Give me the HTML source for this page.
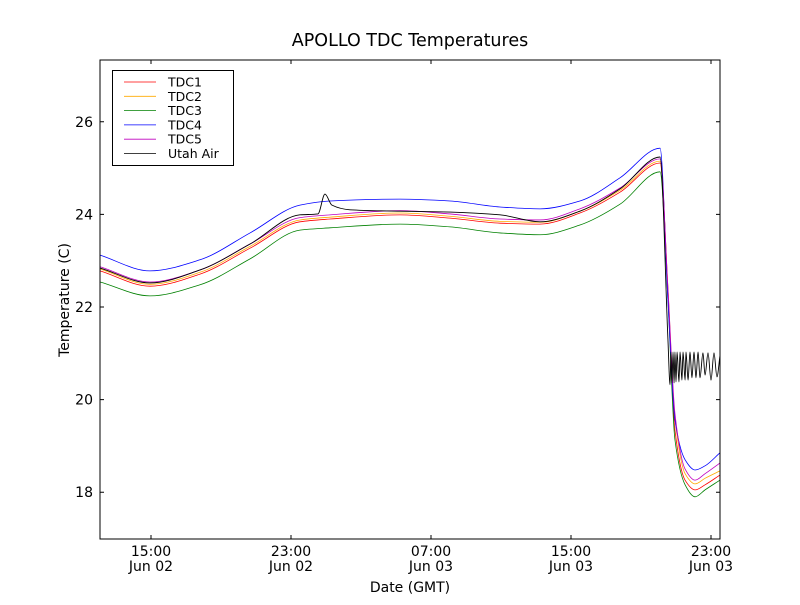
<!DOCTYPE html>
<html><head><meta charset="utf-8"><style>
body{margin:0;background:#fff}
svg{font-family:"DejaVu Sans","Liberation Sans",sans-serif}
</style></head><body>
<svg id="chart" width="800" height="600">
<rect width="800" height="600" fill="#fff"/>
<text x="410" y="46" text-anchor="middle" font-size="17.5">APOLLO TDC Temperatures</text>
<text x="410" y="592" text-anchor="middle" font-size="14">Date (GMT)</text>
<text transform="translate(69,300) rotate(-90)" text-anchor="middle" font-size="14">Temperature (C)</text>
<g id="series"></g>
<g id="axes"></g>
<rect x="100" y="60" width="620" height="479" fill="none" stroke="#000" stroke-width="1"/>
<g>
<rect x="112.5" y="70.5" width="121" height="95" fill="#fff" stroke="#000"/>
</g>
<g id="legend"></g>
</svg>
<script>
const hours=[12.09,14.94,17.80,20.66,23.51,25.23,29.23,32.09,34.94,37.23,39.51,41.80,44.09,44.54,44.94,45.52,46.09,46.66,47.51];
const tdc1=[22.78,22.45,22.71,23.27,23.84,23.90,23.99,23.92,23.81,23.79,24.03,24.48,25.11,22.37,19.34,18.26,18.05,18.16,18.37];
const tdc2=[22.82,22.49,22.75,23.31,23.88,23.94,24.03,23.96,23.85,23.83,24.07,24.52,25.15,22.40,19.60,18.40,18.18,18.30,18.46];
const tdc3=[22.54,22.24,22.48,23.04,23.66,23.71,23.79,23.73,23.60,23.56,23.77,24.22,24.92,22.15,19.13,18.16,17.90,18.05,18.26];
const tdc4=[23.12,22.78,23.02,23.60,24.20,24.29,24.33,24.29,24.16,24.12,24.29,24.79,25.43,22.15,19.56,18.70,18.48,18.57,18.85];
const tdc5=[22.87,22.54,22.80,23.36,23.93,23.99,24.08,24.01,23.90,23.88,24.12,24.57,25.20,22.40,19.70,18.50,18.26,18.40,18.63];
const airHours=[12.09,14.94,17.80,20.66,23.51,24.54,24.94,25.34,26.37,29.23,32.09,34.94,37.23,39.51,41.80,44.09,44.54,44.66,44.71,44.77,44.83,44.89,44.94,45.00,45.06,45.17,45.23,45.34,45.40,45.52,45.57,45.69,45.80,45.91,46.03,46.14,46.26,46.37,46.54,46.66,46.83,47.00,47.17,47.34,47.51];
const utahAir=[22.84,22.52,22.80,23.36,23.99,24.01,24.44,24.20,24.10,24.07,24.05,23.99,23.84,24.07,24.55,25.24,21.29,20.32,21.03,20.36,21.03,20.36,21.03,20.38,21.03,20.38,21.03,20.42,21.03,20.42,21.03,20.42,21.03,20.47,21.03,20.47,21.03,20.47,21.01,20.53,21.01,20.42,21.01,20.49,20.94];
const yTicks=[18,20,22,24,26];
const xTicks=[15,23,31,39,47];
const xLabels=[["15:00","Jun 02"],["23:00","Jun 02"],["07:00","Jun 03"],["15:00","Jun 03"],["23:00","Jun 03"]];
const seriesNames=["TDC1","TDC2","TDC3","TDC4","TDC5","Utah Air"];
const colors=["#ff0000","#ffaa00","#008000","#0000ff","#bf00bf","#000000"];

const NS="http://www.w3.org/2000/svg";
const xS=t=>151+(t-15)*17.5;
const yS=v=>307-(v-22)*46.3;
function monotonePath(xs,ys){
  const n=xs.length;const d=[],m=[];
  for(let i=0;i<n-1;i++)d.push((ys[i+1]-ys[i])/(xs[i+1]-xs[i]));
  m[0]=d[0];m[n-1]=d[n-2];
  for(let i=1;i<n-1;i++){
    if(d[i-1]*d[i]<=0)m[i]=0;
    else{const h0=xs[i]-xs[i-1],h1=xs[i+1]-xs[i];m[i]=(3*(h0+h1))/((2*h1+h0)/d[i-1]+(h1+2*h0)/d[i]);}
  }
  let s='M'+xs[0].toFixed(2)+','+ys[0].toFixed(2);
  for(let i=0;i<n-1;i++){
    const h=(xs[i+1]-xs[i])/3;
    s+='C'+(xs[i]+h).toFixed(2)+','+(ys[i]+m[i]*h).toFixed(2)+' '+(xs[i+1]-h).toFixed(2)+','+(ys[i+1]-m[i+1]*h).toFixed(2)+' '+xs[i+1].toFixed(2)+','+ys[i+1].toFixed(2);
  }
  return s;
}
const sg=document.getElementById('series');
const all=[[hours,tdc1],[hours,tdc2],[hours,tdc3],[hours,tdc4],[hours,tdc5],[airHours,utahAir]];
all.forEach((s,i)=>{
  const p=document.createElementNS(NS,'path');
  p.setAttribute('d',monotonePath(s[0].map(xS),s[1].map(yS)));
  p.setAttribute('fill','none');p.setAttribute('stroke',colors[i]);p.setAttribute('stroke-width',i==5?0.9:0.8);
  
  
  sg.appendChild(p);
});
const ax=document.getElementById('axes');
function mk(tag,attrs,txt){const e=document.createElementNS(NS,tag);for(const k in attrs)e.setAttribute(k,attrs[k]);if(txt!==undefined)e.textContent=txt;ax.appendChild(e);return e;}
yTicks.forEach(v=>{
  const y=yS(v);
  const l=mk('path',{d:`M100,${y}h4M720,${y}h-4`,stroke:'#000'});
  
  
  const t=mk('text',{x:93,y:y+5,'text-anchor':'end','font-size':14},String(v));
  
  
});
xTicks.forEach((h,i)=>{
  const x=xS(h);
  const l=mk('path',{d:`M${x},539v-4M${x},60v4`,stroke:'#000'});
  
  
  const t1=mk('text',{x:x,y:556,'text-anchor':'middle','font-size':14},xLabels[i][0]);
  
  
  const t2=mk('text',{x:x,y:571,'text-anchor':'middle','font-size':14},xLabels[i][1]);
  
  
});
const lg=document.getElementById('legend');
seriesNames.forEach((n,i)=>{
  const y=82+i*14.3;
  const l=document.createElementNS(NS,'line');
  l.setAttribute('x1',124);l.setAttribute('x2',156);l.setAttribute('y1',y);l.setAttribute('y2',y);
  l.setAttribute('stroke',colors[i]);l.setAttribute('stroke-width',0.8);
  
  
  lg.appendChild(l);
  const t=document.createElementNS(NS,'text');
  t.setAttribute('x',168);t.setAttribute('y',y+4.5);t.setAttribute('font-size',12.5);t.textContent=n;
  
  
  lg.appendChild(t);
});
</script>
</body></html>
